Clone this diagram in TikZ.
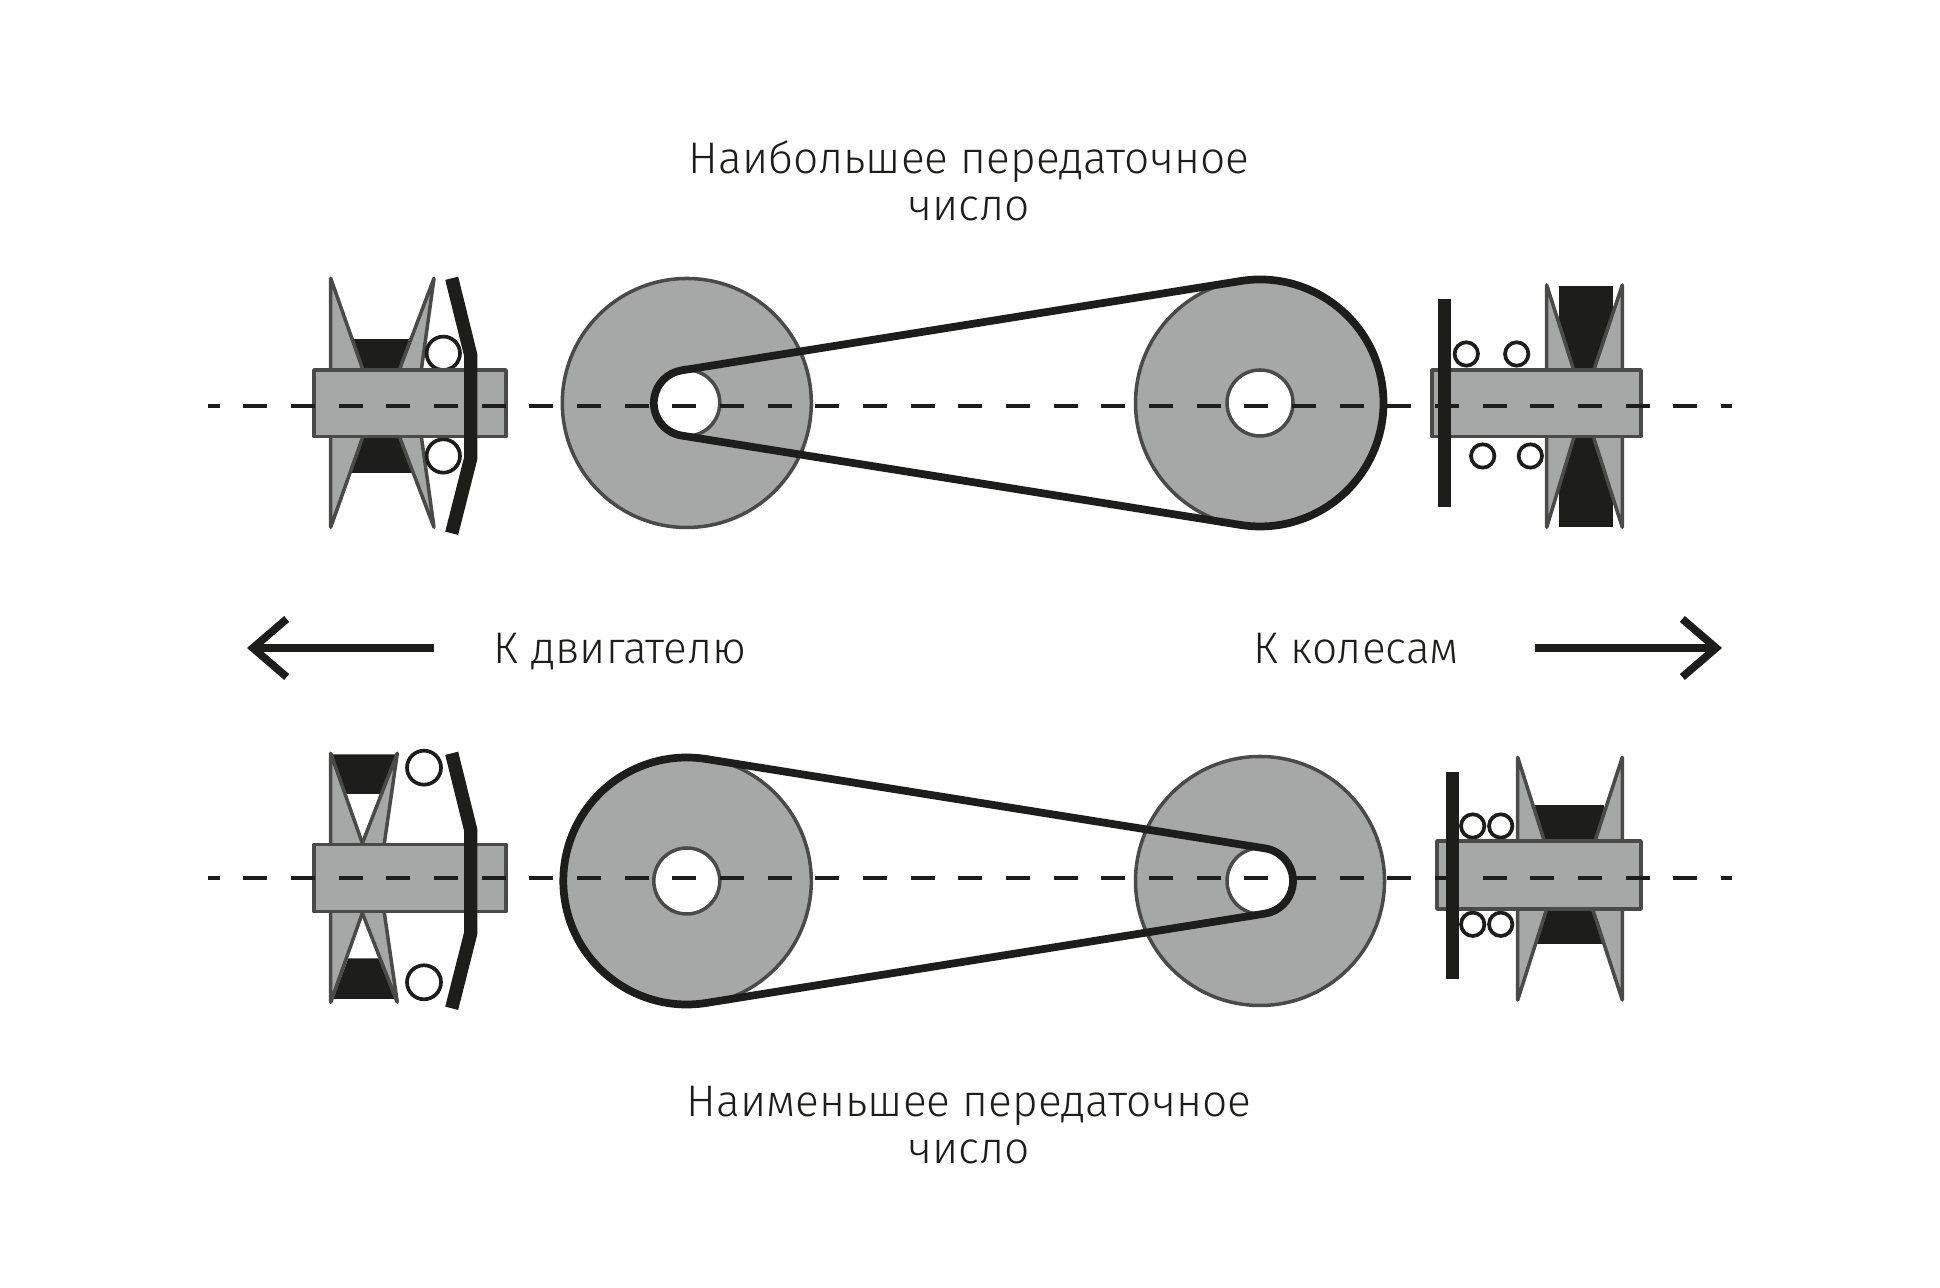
\documentclass[tikz,border=0pt]{standalone}
\usepackage{fontspec}
\setmainfont{Fira Sans Light}
\usetikzlibrary{arrows.meta}
\definecolor{partgray}{HTML}{A6A8A7}
\definecolor{edgegray}{HTML}{4A4A49}
\definecolor{inkblack}{HTML}{1D1D1B}
\tikzset{
    part/.style={draw=edgegray, fill=partgray, line width=1.0pt, line join=round},
    hole/.style={draw=edgegray, fill=white, line width=1.0pt},
    solid part/.style={fill=inkblack},
    ball/.style={draw=inkblack, fill=white, line width=1.05pt},
    sheave/.style={draw=inkblack, line width=3.8pt, line join=miter},
    belt/.style={draw=inkblack, line width=2.2pt},
    axis/.style={draw=inkblack, line width=1.14pt, dash pattern=on 0.24cm off 0.2367cm, dash phase=0.124cm},
    pointer/.style={draw=inkblack, line width=2.2pt, -{Straight Barb[length=9.6pt, width=16.5pt]}},
    caption/.style={font=\fontsize{12.6}{13.55}\selectfont, text=inkblack, align=center}
}

\begin{document}
\begin{tikzpicture}
    \useasboundingbox (0,0) rectangle (19.40,12.88);

    % upper row
    \fill[solid part] (3.45,9.487) rectangle (4.15,8.153);
    \draw[part] (3.307,10.097) -- (3.747,8.847) -- (3.307,7.607) -- cycle;
    \draw[part] (4.34,10.097) -- (3.867,8.847) -- (4.34,7.607) -- (4.167,8.847) -- cycle;
    \draw[ball] (4.433,9.347) circle (0.167);
    \draw[ball] (4.433,8.32) circle (0.167);
    \draw[part] (3.14,9.18) rectangle (5.06,8.513);
    \draw[sheave] (4.517,10.097) -- (4.707,9.33) -- (4.707,8.297) -- (4.517,7.547);

    \coordinate (upsmall) at (6.868,8.85);
    \coordinate (upbig) at (12.60,8.85);
    \draw[part] (upsmall) circle (1.245);
    \draw[hole] (upsmall) circle (0.33);
    \draw[part] (upbig) circle (1.245);
    \draw[hole] (upbig) circle (0.33);
    \draw[belt] ([shift={(99.09:0.33)}]upsmall) -- ([shift={(99.09:1.235)}]upbig)
        arc[start angle=99.09, end angle=-99.09, radius=1.235]
        -- ([shift={(260.91:0.33)}]upsmall)
        arc[start angle=260.91, end angle=99.09, radius=0.33] -- cycle;

    \fill[solid part] (15.587,10.02) rectangle (16.13,7.613);
    \draw[part] (15.467,10.03) -- (15.843,8.847) -- (15.467,7.607) -- cycle;
    \draw[part] (16.223,10.03) -- (15.827,8.847) -- (16.223,7.607) -- cycle;
    \draw[ball] (14.663,9.34) circle (0.117);
    \draw[ball] (15.167,9.34) circle (0.117);
    \draw[ball] (14.827,8.32) circle (0.117);
    \draw[ball] (15.303,8.32) circle (0.117);
    \draw[part] (14.32,9.18) rectangle (16.41,8.513);
    \fill[solid part] (14.38,9.887) rectangle (14.513,7.813);

    % lower row
    \fill[solid part] (3.307,5.337) -- (3.973,5.337) -- (3.817,4.94) -- (3.467,4.94) -- cycle;
    \fill[solid part] (3.483,3.297) -- (3.783,3.297) -- (3.95,2.89) -- (3.333,2.89) -- cycle;
    \draw[part] (3.307,5.347) -- (3.747,4.097) -- (3.307,2.857) -- cycle;
    \draw[part] (3.973,5.347) -- (3.487,4.097) -- (3.973,2.857) -- (3.793,4.097) -- cycle;
    \draw[ball] (4.24,5.203) circle (0.17);
    \draw[ball] (4.24,3.057) circle (0.17);
    \draw[part] (3.14,4.437) rectangle (5.06,3.763);
    \draw[sheave] (4.517,5.347) -- (4.707,4.58) -- (4.707,3.547) -- (4.517,2.797);

    \coordinate (lowbig) at (6.868,4.07);
    \coordinate (lowsmall) at (12.60,4.07);
    \draw[part] (lowbig) circle (1.245);
    \draw[hole] (lowbig) circle (0.33);
    \draw[part] (lowsmall) circle (1.245);
    \draw[hole] (lowsmall) circle (0.33);
    \draw[belt] ([shift={(80.91:1.235)}]lowbig) -- ([shift={(80.91:0.33)}]lowsmall)
        arc[start angle=80.91, end angle=-80.91, radius=0.33]
        -- ([shift={(-80.91:1.235)}]lowbig)
        arc[start angle=-80.91, end angle=-279.09, radius=1.235] -- cycle;

    \fill[solid part] (15.35,4.83) rectangle (16.04,3.443);
    \draw[part] (15.177,5.307) -- (15.563,4.093) -- (15.177,2.88) -- cycle;
    \draw[part] (16.223,5.307) -- (15.827,4.093) -- (16.223,2.88) -- cycle;
    \draw[ball] (14.727,4.62) circle (0.117);
    \draw[ball] (15.007,4.62) circle (0.117);
    \draw[ball] (14.727,3.637) circle (0.117);
    \draw[ball] (15.007,3.637) circle (0.117);
    \draw[part] (14.37,4.47) rectangle (16.41,3.79);
    \fill[solid part] (14.46,5.163) rectangle (14.593,3.09);

    % center lines
    \coordinate (upstart) at (2.08,8.82);
    \coordinate (upend) at (17.32,8.82);
    \coordinate (lowstart) at (2.08,4.097);
    \coordinate (lowend) at (17.32,4.097);
    \draw[axis] (upstart) -- (upend);
    \draw[axis] (lowstart) -- (lowend);

    % middle pointers
    \coordinate (enginetail) at (4.34,6.40);
    \coordinate (enginetip) at (2.47,6.40);
    \coordinate (wheeltail) at (15.35,6.40);
    \coordinate (wheeltip) at (17.22,6.40);
    \draw[pointer] (enginetail) -- (enginetip);
    \draw[pointer] (wheeltail) -- (wheeltip);

    \node(engine)[caption, anchor=base] at (6.20,6.245) {К двигателю};
    \node(wheels)[caption, anchor=base] at (13.56,6.245) {К колесам};
    \node(topcap)[caption] at (9.69,11.07) {Наибольшее передаточное\\число};
    \node(lowcap)[caption] at (9.69,1.63) {Наименьшее передаточное\\число};
\end{tikzpicture}
\end{document}
